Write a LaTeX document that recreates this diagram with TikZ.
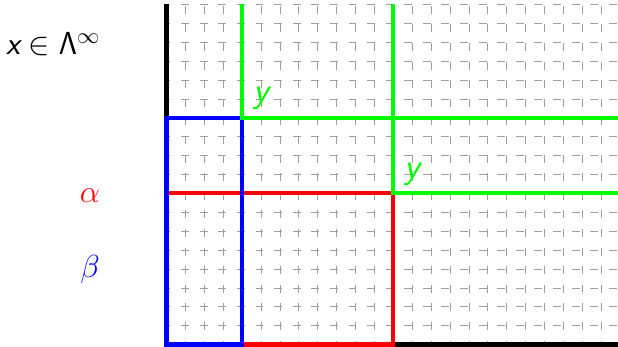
\RequirePackage{fix-cm}
\documentclass[tikz,border=0pt]{standalone}
\usepackage{tikz}
\usetikzlibrary{positioning}

\tikzset{
  gridline/.style={gray!75, line width=0.5pt, step=0.5cm, dash pattern=on 6pt off 8pt, dash phase=3pt},
  borderline/.style={line width=3.2pt},
  biglabel/.style={font=\fontsize{24}{28}\selectfont, inner sep=0pt},
}

\begin{document}
\begin{tikzpicture}[x=0.5cm, y=0.5cm]
    \useasboundingbox (-8.81,-0.13) rectangle (23.89,18.23);

    % dashed lattice
    \draw[gridline] (0,0) grid (23.89,18);

    % corner points
    \coordinate (o) at (0,0);
    \coordinate (top) at (0,18);
    \coordinate (right) at (23.89,0);
    \coordinate (yA) at (4,12);
    \coordinate (yAtop) at (4,18);
    \coordinate (yAright) at (23.89,12);
    \coordinate (yB) at (12,8);
    \coordinate (yBtop) at (12,18);
    \coordinate (yBright) at (23.89,8);

    % axes
    \draw[borderline] (top) -- (o) -- (right);

    % alpha and beta boxes
    \draw[borderline, red] (o) rectangle (yB);
    \draw[borderline, blue] (o) rectangle (yA);

    % quadrants above y
    \draw[borderline, green] (yAtop) -- (yA) -- (yAright);
    \draw[borderline, green] (yBtop) -- (yB) -- (yBright);

    % labels
    \node (xlabel) at (-8.5,15.32) [biglabel, anchor=base west] {$\textsf{\itshape x}\in\mathsf{\Lambda}^{\infty}$};
    \node (alphalabel) at (-4.05,7.54) [biglabel, anchor=base, text=red] {$\alpha$};
    \node (betalabel) at (-4.05,3.55) [biglabel, anchor=base, text=blue] {$\beta$};
    \node (ylabelA) [biglabel, font=\fontsize{27}{30}\selectfont, text=green, above right=0.2cm and 0.3cm of yA] {\textsf{\itshape y}};
    \node (ylabelB) [biglabel, font=\fontsize{27}{30}\selectfont, text=green, above right=0.2cm and 0.3cm of yB] {\textsf{\itshape y}};
\end{tikzpicture}
\end{document}
